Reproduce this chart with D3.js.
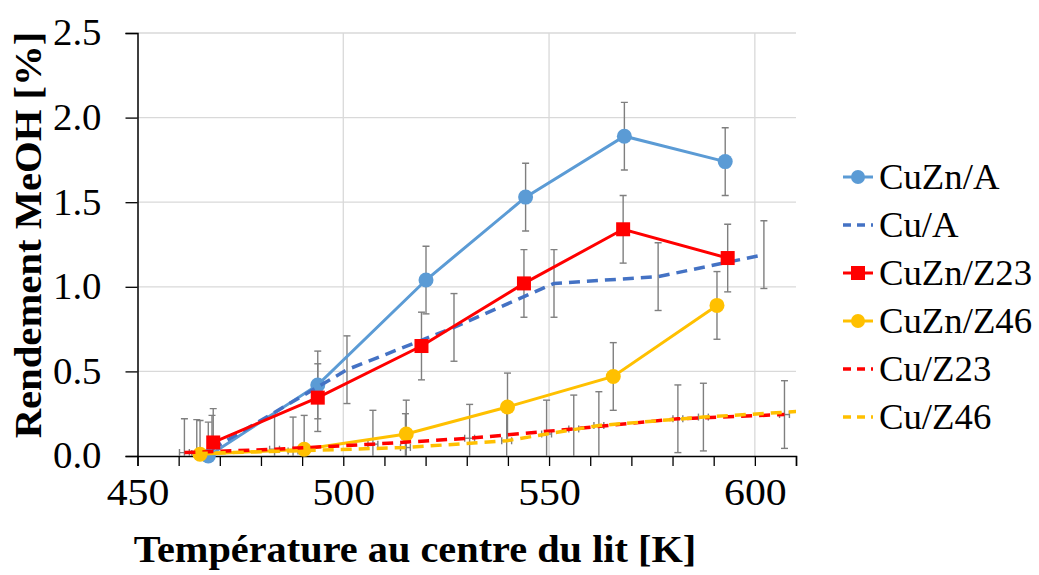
<!DOCTYPE html>
<html><head><meta charset="utf-8">
<script src="https://cdn.jsdelivr.net/npm/d3@7"></script>
<style>html,body{margin:0;padding:0;background:#fff;}svg{display:block;}</style>
</head><body>
<script>
// ---- data ----
const xTicks = [450, 500, 550, 600];
const yTicks = [0.0, 0.5, 1.0, 1.5, 2.0, 2.5];
const seriesNames = ["CuZn/A", "Cu/A", "CuZn/Z23", "CuZn/Z46", "Cu/Z23", "Cu/Z46"];
const cuznA_x = [467.2, 493.8, 520.1, 544.3, 568.3, 592.8];
const cuznA_y = [0.00, 0.42, 1.04, 1.53, 1.89, 1.74];
const cuA_x = [468.1, 500.9, 526.9, 551.2, 576.5, 602.2];
const cuA_y = [0.04, 0.51, 0.76, 1.02, 1.06, 1.19];
const cuznZ23_x = [468.4, 493.8, 519.0, 543.9, 568.0, 593.4];
const cuznZ23_y = [0.08, 0.345, 0.65, 1.02, 1.34, 1.17];
const cuznZ46_x = [465.2, 490.5, 515.3, 539.9, 565.6, 590.8];
const cuznZ46_y = [0.01, 0.04, 0.13, 0.29, 0.47, 0.89];
const cuZ23_x = [461.4, 483.3, 507.2, 530.7, 556.0, 581.3, 607.2];
const cuZ23_y = [0.02, 0.04, 0.07, 0.105, 0.16, 0.22, 0.245];
const cuZ46_x = [464.4, 487.8, 515.1, 539.7, 549.4, 562.1, 587.5, 615.0];
const cuZ46_y = [0.015, 0.03, 0.05, 0.09, 0.13, 0.18, 0.23, 0.27];
const errY = [0.2, 0.2, 0.2, 0.2, 0.2, 0.2];
const errX = [0, 0, 0, 0, 1.2, 1.2];

const seriesX = [cuznA_x, cuA_x, cuznZ23_x, cuznZ46_x, cuZ23_x, cuZ46_x];
const seriesY = [cuznA_y, cuA_y, cuznZ23_y, cuznZ46_y, cuZ23_y, cuZ46_y];
const colors = ["#5B9BD5", "#4472C4", "#FF0000", "#FFC000", "#FF0000", "#FFC000"];
const dashed = [false, true, false, false, true, true];
const markers = ["circle", null, "square", "circle", null, null];

const W = 1039, H = 575;
const m = {left: 137.5, right: 243, top: 33, bottom: 119};
const FONT = "'Palatino Linotype','Book Antiqua',Palatino,'Liberation Serif',serif";

const svg = d3.select("body").append("svg").attr("width", W).attr("height", H);
const x = d3.scaleLinear().domain([450, 610]).range([m.left, W - m.right]);
const y = d3.scaleLinear().domain([0, 2.5]).range([H - m.bottom, m.top]);

svg.append("defs").append("clipPath").attr("id", "plot")
  .append("rect").attr("x", m.left).attr("y", m.top)
  .attr("width", W - m.right - m.left).attr("height", H - m.bottom - m.top);

// grid
const grid = svg.append("g");
grid.selectAll(".hg").data(yTicks.filter(d => d > 0)).join("line")
  .attr("x1", m.left).attr("x2", W - m.right)
  .attr("y1", d => y(d)).attr("y2", d => y(d))
  .attr("stroke", "#d9d9d9").attr("stroke-width", 1.3);
grid.selectAll(".vg").data(xTicks.filter(d => d > 450)).join("line")
  .attr("y1", m.top).attr("y2", H - m.bottom)
  .attr("x1", d => x(d)).attr("x2", d => x(d))
  .attr("stroke", "#d9d9d9").attr("stroke-width", 1.3);

function stretch(sel, s) {
  sel.each(function () {
    const t = d3.select(this);
    const x0 = +t.attr("x") || 0;
    t.attr("x", x0 / s).attr("transform", `scale(${s},1)`);
  });
}

// axes
const xAxis = d3.axisBottom(x).tickValues(d3.range(450, 611, 10)).tickSize(10).tickPadding(12).tickFormat(d => xTicks.includes(d) ? d : "");
const gx = svg.append("g").attr("transform", `translate(0,${H - m.bottom})`).call(xAxis);
gx.select(".domain").attr("stroke", "#000").attr("stroke-width", 1.5);
gx.selectAll(".tick line").attr("stroke", "#000").attr("stroke-width", 1.3);
gx.selectAll("text").attr("font-family", FONT).attr("font-size", 38).attr("fill", "#000");
stretch(gx.selectAll("text"), 1.1);

const yAxis = d3.axisLeft(y).tickValues(yTicks).tickSize(12).tickPadding(24).tickFormat(d3.format(".1f"));
const gy = svg.append("g").attr("transform", `translate(${m.left},0)`).call(yAxis);
gy.select(".domain").attr("stroke", "#000").attr("stroke-width", 1.5);
gy.selectAll(".tick line").attr("stroke", "#000").attr("stroke-width", 1.3);
gy.selectAll("text").attr("font-family", FONT).attr("font-size", 37).attr("fill", "#000");
stretch(gy.selectAll("text"), 1.05);

// titles
svg.append("text").attr("transform", "translate(415,562) scale(1.09,1)").attr("text-anchor", "middle")
  .attr("font-family", FONT).attr("font-weight", "bold").attr("font-size", 37)
  .text("Température au centre du lit [K]");
svg.append("text").attr("transform", "translate(41,235) rotate(-90) scale(1.1,1)").attr("text-anchor", "middle")
  .attr("font-family", FONT).attr("font-weight", "bold").attr("font-size", 37)
  .text("Rendement MeOH [%]");

// error bars
const eb = svg.append("g").attr("clip-path", "url(#plot)");
seriesX.forEach((xs, si) => {
  xs.forEach((xv, i) => {
    const yv = seriesY[si][i];
    const g = eb.append("g").attr("stroke", "#7f7f7f").attr("stroke-width", 1.4);
    const e = errY[si];
    g.append("line").attr("x1", x(xv)).attr("x2", x(xv)).attr("y1", y(yv - e)).attr("y2", y(yv + e));
    g.append("line").attr("x1", x(xv) - 3.5).attr("x2", x(xv) + 3.5).attr("y1", y(yv + e)).attr("y2", y(yv + e));
    g.append("line").attr("x1", x(xv) - 3.5).attr("x2", x(xv) + 3.5).attr("y1", y(yv - e)).attr("y2", y(yv - e));
    const ex = errX[si];
    if (ex > 0) {
      g.append("line").attr("x1", x(xv - ex)).attr("x2", x(xv + ex)).attr("y1", y(yv)).attr("y2", y(yv));
      g.append("line").attr("x1", x(xv - ex)).attr("x2", x(xv - ex)).attr("y1", y(yv) - 3.5).attr("y2", y(yv) + 3.5);
      g.append("line").attr("x1", x(xv + ex)).attr("x2", x(xv + ex)).attr("y1", y(yv) - 3.5).attr("y2", y(yv) + 3.5);
    }
  });
});

// series
const line = d3.line().x(d => x(d[0])).y(d => y(d[1]));
seriesX.forEach((xs, si) => {
  const pts = xs.map((v, i) => [v, seriesY[si][i]]);
  svg.append("path").datum(pts).attr("clip-path", "url(#plot)")
    .attr("d", line).attr("fill", "none").attr("stroke", colors[si])
    .attr("stroke-width", dashed[si] ? 3.5 : 3)
    .attr("stroke-dasharray", dashed[si] ? "11,7" : null);
  if (markers[si] === "circle") {
    svg.append("g").selectAll("circle").data(pts).join("circle")
      .attr("cx", d => x(d[0])).attr("cy", d => y(d[1])).attr("r", 7.5).attr("fill", colors[si]);
  } else if (markers[si] === "square") {
    svg.append("g").selectAll("rect").data(pts).join("rect")
      .attr("x", d => x(d[0]) - 7).attr("y", d => y(d[1]) - 7).attr("width", 14).attr("height", 14).attr("fill", colors[si]);
  }
});

// legend
const lg = svg.append("g");
seriesNames.forEach((name, si) => {
  const ly = 177 + si * 48;
  lg.append("line").attr("x1", 843).attr("x2", 873).attr("y1", ly).attr("y2", ly)
    .attr("stroke", colors[si]).attr("stroke-width", dashed[si] ? 3.5 : 3)
    .attr("stroke-dasharray", dashed[si] ? "8,6" : null);
  if (markers[si] === "circle") lg.append("circle").attr("cx", 858).attr("cy", ly).attr("r", 7).attr("fill", colors[si]);
  if (markers[si] === "square") lg.append("rect").attr("x", 851).attr("y", ly - 7).attr("width", 14).attr("height", 14).attr("fill", colors[si]);
  lg.append("text").attr("transform", `translate(879,${ly}) scale(1.05,1)`).attr("dy", "0.35em")
    .attr("font-family", FONT).attr("font-size", 35).attr("fill", "#000").text(name);
});
</script>
</body></html>
